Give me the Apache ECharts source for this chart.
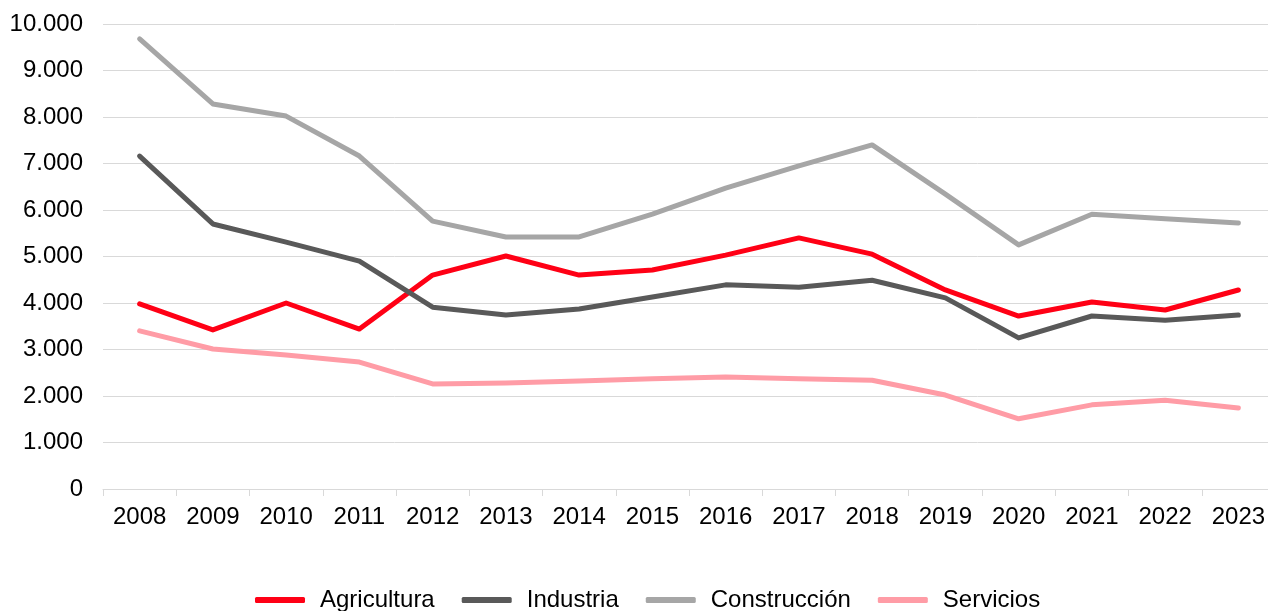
<!DOCTYPE html>
<html>
<head>
<meta charset="utf-8">
<script src="https://cdn.jsdelivr.net/npm/echarts@6/dist/echarts.min.js"></script>
<style>
  html, body { margin: 0; padding: 0; background: #fff; overflow: hidden; }
  #chart { width: 1268px; height: 611px; }
</style>
</head>
<body>
<div id="chart"></div>
<script>
const years = ['2008', '2009', '2010', '2011', '2012', '2013', '2014', '2015',
  '2016', '2017', '2018', '2019', '2020', '2021', '2022', '2023'];
const agricultura = [3980, 3420, 4000, 3440, 4600, 5010, 4600, 4710, 5030, 5400, 5050, 4280, 3720, 4020, 3850, 4280];
const industria = [7160, 5700, 5310, 4900, 3910, 3740, 3870, 4130, 4390, 4340, 4490, 4110, 3250, 3720, 3630, 3740];
const construccion = [9680, 8280, 8020, 7160, 5760, 5420, 5420, 5910, 6470, 6950, 7400, 6340, 5250, 5910, 5810, 5720];
const servicios = [3400, 3010, 2880, 2730, 2260, 2280, 2320, 2370, 2410, 2370, 2340, 2020, 1510, 1810, 1910, 1740];

const chart = echarts.init(document.getElementById('chart'));
const font = 'Liberation Sans, Arial, sans-serif';

function line(name, data, color) {
  return {
    name: name,
    type: 'line',
    data: data,
    symbol: 'none',
    lineStyle: { color: color, width: 5, cap: 'round', join: 'round' },
    itemStyle: { color: color },
    animation: false
  };
}

chart.setOption({
  textStyle: { fontFamily: font },
  // plot area runs a little past the right edge of the window, as in the original
  grid: { left: 103, width: 1172, top: 24, bottom: 122, outerBoundsMode: 'none' },
  legend: {
    top: 583,
    left: 250,
    itemWidth: 50,
    itemHeight: 6,
    itemGap: 27,
    icon: 'roundRect',
    textStyle: { fontSize: 24, color: '#000', fontFamily: font, padding: [0, 0, 0, 10] },
    data: ['Agricultura', 'Industria', 'Construcción', 'Servicios']
  },
  xAxis: {
    type: 'category',
    data: years,
    boundaryGap: true,
    axisLine: { lineStyle: { color: '#d9d9d9', width: 1 } },
    axisTick: { show: true, length: 7, lineStyle: { color: '#d9d9d9' } },
    axisLabel: { color: '#000', fontSize: 24, margin: 16, fontFamily: font }
  },
  yAxis: {
    type: 'value',
    min: 0,
    max: 10000,
    interval: 1000,
    axisLine: { show: false },
    axisTick: { show: false },
    splitLine: { lineStyle: { color: '#d9d9d9', width: 1 } },
    axisLabel: {
      color: '#000',
      fontSize: 24,
      margin: 20,
      fontFamily: font,
      formatter: function (v) {
        return v.toString().replace(/\B(?=(\d{3})+(?!\d))/g, '.');
      }
    }
  },
  series: [
    line('Agricultura', agricultura, '#ff0015'),
    line('Industria', industria, '#595959'),
    line('Construcción', construccion, '#a6a6a6'),
    line('Servicios', servicios, '#ff9ca6')
  ]
});
</script>
</body>
</html>
